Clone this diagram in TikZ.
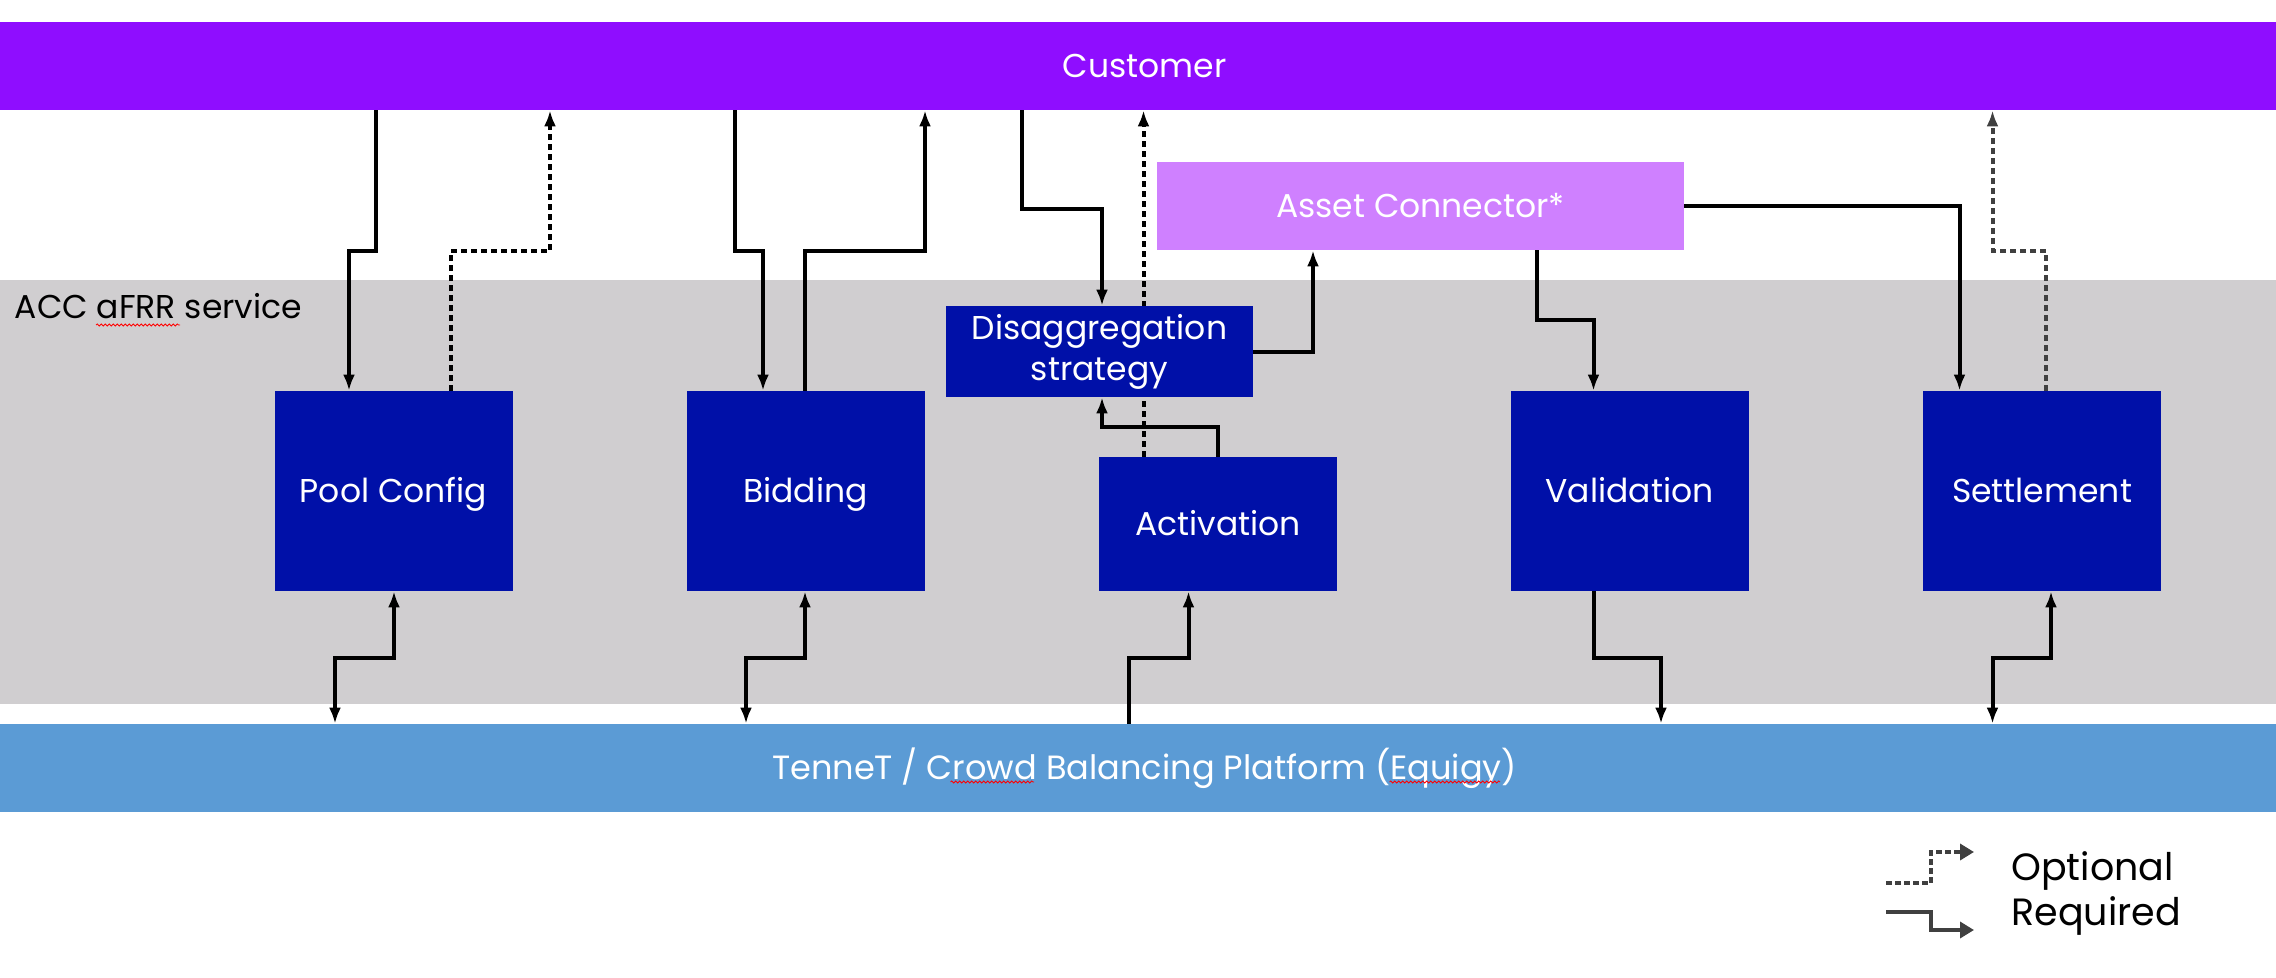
\documentclass[tikz,border=0pt]{standalone}
\usepackage{fontspec}
\setmainfont{Poppins}
\usetikzlibrary{arrows.meta,decorations.pathmorphing}
\pgfdeclarelayer{bg}
\pgfdeclarelayer{edges}
\pgfsetlayers{bg,edges,main}
\definecolor{custpurple}{RGB}{143,13,255}
\definecolor{bandgray}{RGB}{208,206,208}
\definecolor{boxblue}{RGB}{0,16,168}
\definecolor{assetpink}{RGB}{207,128,255}
\definecolor{platblue}{RGB}{91,155,213}
\definecolor{leggray}{RGB}{64,64,64}
\tikzset{
  onel/.style={text height=11.6pt, text depth=0pt},
  bar/.style={fill=#1, draw=none, minimum width=1138pt, minimum height=44pt, inner sep=0pt, text=white, onel, font=\fontsize{16.5}{20}\selectfont},
  svc/.style={fill=boxblue, draw=none, minimum width=119pt, minimum height=100pt, inner sep=0pt, text=white, align=center, font=\fontsize{16.5}{20.5}\selectfont},
  req/.style={draw=black, line width=2pt, line cap=butt, line join=miter, -{Latex[length=8pt,width=6pt]}},
  reqboth/.style={req, {Latex[length=8pt,width=6pt]}-{Latex[length=8pt,width=6pt]}},
  opt/.style={req, dash pattern=on 3pt off 2pt},
  optgray/.style={opt, draw=leggray, -{Latex[length=8pt,width=6pt,fill=leggray]}},
  legline/.style={draw=leggray, line width=2pt, -{Triangle[length=7pt,width=8pt]}},
  spell/.style={draw=red, line width=0.4pt, decorate, decoration={snake, amplitude=0.5pt, segment length=2pt}},
  legtext/.style={anchor=base west, inner sep=0pt, font=\fontsize{19}{22}\selectfont},
}
\begin{document}
\begin{tikzpicture}[x=0.5pt,y=-0.5pt]
\useasboundingbox (0,0) rectangle (2276,978);
\begin{pgfonlayer}{bg}
  \fill[bandgray] (0,280) rectangle (2276,704);
\end{pgfonlayer}
\node[inner sep=0pt, anchor=base west, font=\fontsize{16.5}{19}\selectfont] (acclbl) at (14.5,319) {ACC aFRR service};
\node[bar=custpurple] (cust) at (1138,66) {\hspace*{6.5pt}Customer};
\node[bar=platblue, font=\fontsize{16.8}{20}\selectfont] (ten) at (1138,768) {\hspace*{6.5pt}TenneT / Crowd Balancing Platform (Equigy)};
\node[svc, onel] (pool) at (393.5,491) {Pool Config};
\node[svc, onel] (bid) at (805.5,491) {Bidding};
\node[svc, minimum width=153.5pt, minimum height=45.5pt] (dis) at (1099.5,351.5) {Disaggregation\\strategy};
\node[svc, onel, minimum height=67pt] (act) at (1218,524) {Activation};
\node[svc, onel] (val) at (1629.5,491) {Validation};
\node[svc, onel] (set) at (2042,491) {Settlement};
\node[fill=assetpink, draw=none, minimum width=263.5pt, minimum height=44pt, inner sep=0pt, text=white, onel, font=\fontsize{16.5}{20}\selectfont] (asset) at (1420.5,206) {Asset Connector*};
\begin{pgfonlayer}{edges}
  % top connections
  \draw[req] (cust.south -| 376,0) |- (349,251) -- (pool.north -| 349,0);
  \draw[opt] (pool.north -| 451,0) |- (550,251) -- (cust.south -| 550,0);
  \draw[req] (cust.south -| 734.5,0) |- (763,251) -- (bid.north -| 763,0);
  \draw[req] (bid.north -| 805,0) |- (925,251) -- (cust.south -| 925,0);
  \draw[req] (cust.south -| 1022,0) |- (1102,209) -- (dis.north -| 1102,0);
  \draw[opt] (act.north -| 1143.5,0) -- (cust.south -| 1143.5,0);
  \draw[req] (act.north -| 1218,0) |- (1102,427) -- (dis.south -| 1102,0);
  \draw[req] (dis.east |- 0,352) -| (asset.south -| 1313,0);
  \draw[req] (asset.south -| 1536.5,0) |- (1593.5,320.5) -- (val.north -| 1593.5,0);
  \draw[req] (asset.east) -| (set.north -| 1959.5,0);
  \draw[optgray] (set.north -| 2046,0) |- (1992.5,251) -- (cust.south -| 1992.5,0);
  % bottom connections
  \draw[reqboth] (pool.south -| 394,0) |- (335,658) -- (ten.north -| 335,0);
  \draw[reqboth] (bid.south -| 805,0) |- (746,658) -- (ten.north -| 746,0);
  \draw[req] (ten.north -| 1128.5,0) |- (1188.5,658) -- (act.south -| 1188.5,0);
  \draw[req] (val.south -| 1593.5,0) |- (1661,658) -- (ten.north -| 1661,0);
  \draw[reqboth] (set.south -| 2051,0) |- (1992.5,658) -- (ten.north -| 1992.5,0);
\end{pgfonlayer}
% spell-check marks
\draw[spell] (96,325) -- (180,325);
\draw[spell] (950.5,782) -- (1034,782);
\draw[spell] (1389.5,782) -- (1500,782);
% legend
\coordinate (lo1) at (1886,883);
\coordinate (lo2) at (1974,852);
\coordinate (lr1) at (1886,912);
\coordinate (lr2) at (1974,930);
\draw[legline, dash pattern=on 3pt off 1.5pt] (lo1) -| (1931,852) -- (lo2);
\draw[legline] (lr1) -| (1931,930) -- (lr2);
\node[legtext] (optlbl) at (2011,880) {Optional};
\node[legtext] (reqlbl) at (2011,925) {Required};
\end{tikzpicture}
\end{document}
